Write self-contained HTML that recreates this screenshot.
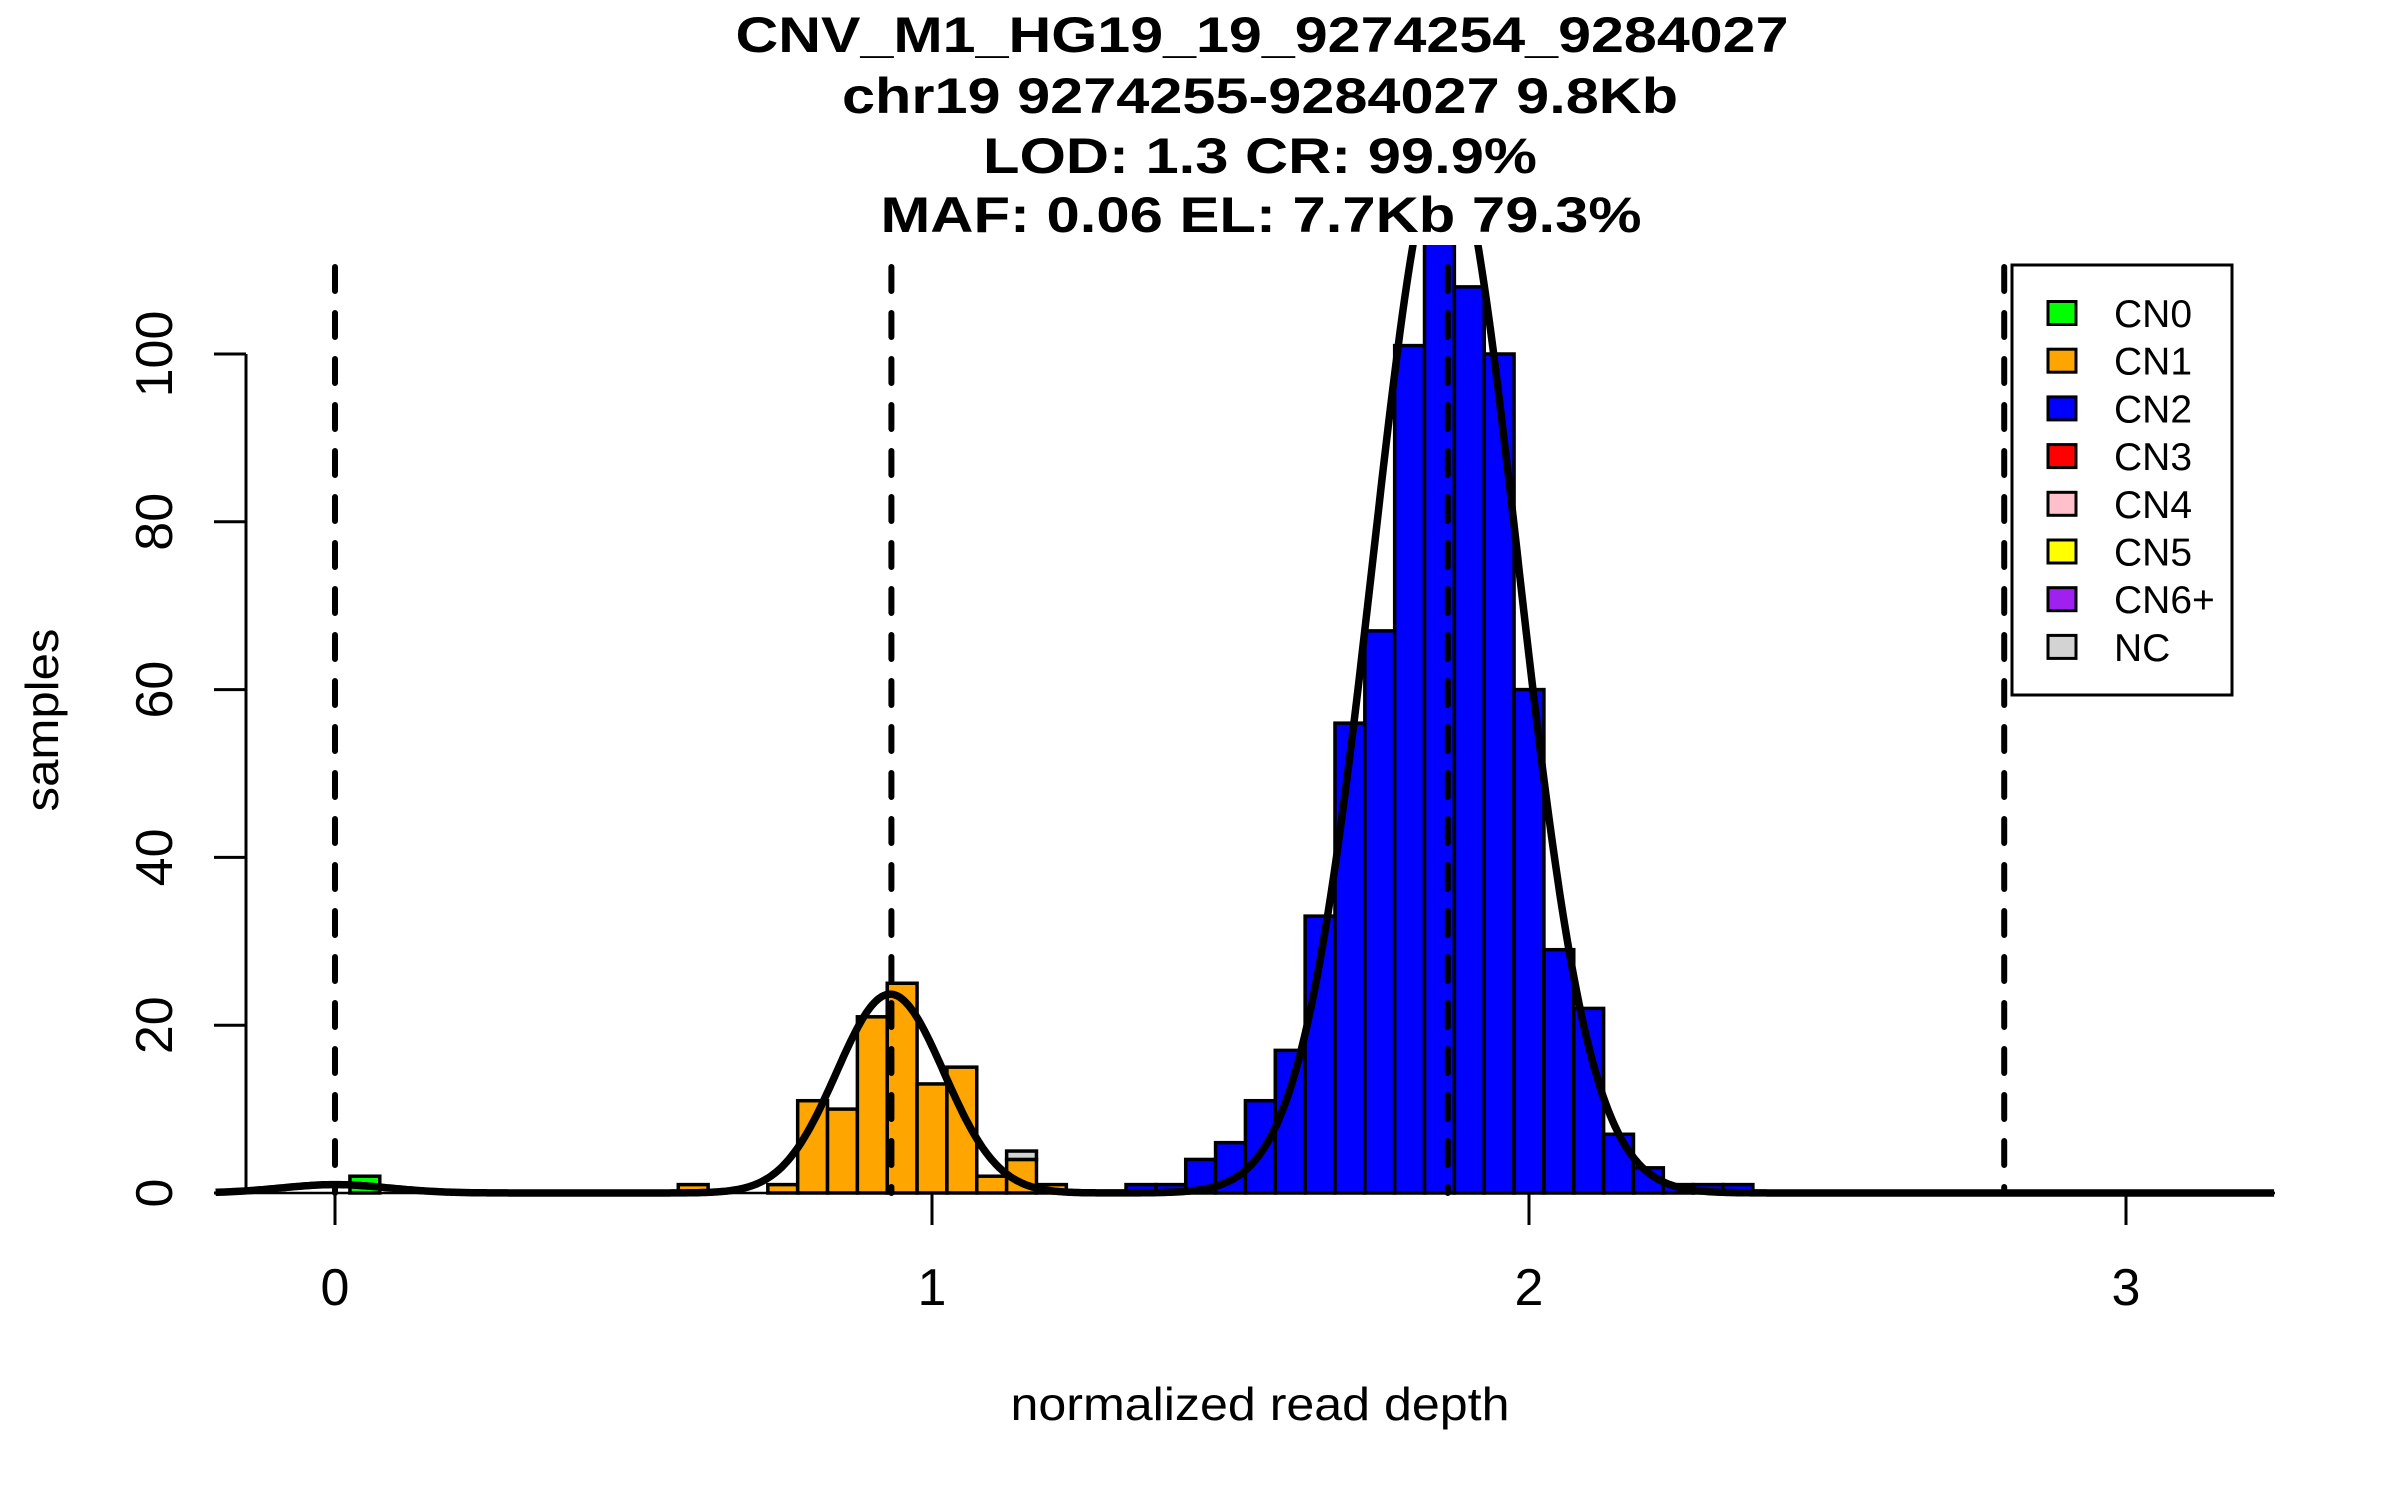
<!DOCTYPE html>
<html><head><meta charset="utf-8"><style>
html,body{margin:0;padding:0;background:#fff;}
svg{display:block;font-family:"Liberation Sans",Arial,sans-serif;}
</style></head><body>
<svg id="chart" width="2400" height="1500" viewBox="0 0 2400 1500" xmlns="http://www.w3.org/2000/svg">
<defs><clipPath id="plotclip"><rect x="200" y="245" width="2100" height="1000"/></clipPath></defs>
<g font-weight="bold" font-size="50" text-anchor="middle">
<text x="1262" y="52" textLength="1053" lengthAdjust="spacingAndGlyphs">CNV_M1_HG19_19_9274254_9284027</text>
<text x="1260" y="113" textLength="836" lengthAdjust="spacingAndGlyphs">chr19 9274255-9284027 9.8Kb</text>
<text x="1260" y="173" textLength="554" lengthAdjust="spacingAndGlyphs">LOD: 1.3 CR: 99.9%</text>
<text x="1261" y="232" textLength="761" lengthAdjust="spacingAndGlyphs">MAF: 0.06 EL: 7.7Kb 79.3%</text>
</g>
<g id="bars" clip-path="url(#plotclip)"></g>
<g id="dashes"></g>
<g id="curves" clip-path="url(#plotclip)"></g>
<g id="axes"></g>
<text x="1260" y="1420" font-size="46" text-anchor="middle" textLength="499" lengthAdjust="spacingAndGlyphs">normalized read depth</text>
<text transform="translate(58,720) rotate(-90)" font-size="46" text-anchor="middle" textLength="183" lengthAdjust="spacingAndGlyphs">samples</text>
<g id="legend"></g>
</svg>
<script>
const binWidth = 0.05;
const greenStart = 0.025;
const greenCounts = [2];
const orangeStarts = [0.575, 0.725, 0.775, 0.825, 0.875, 0.925, 0.975, 1.025, 1.075, 1.125, 1.175];
const orangeCounts = [1, 1, 11, 10, 21, 25, 13, 15, 2, 4, 1];
const ncStarts = [1.125];
const ncCounts = [1];
const ncBase = [4];
const blueStart = 1.325;
const blueCounts = [1, 1, 4, 6, 11, 17, 33, 56, 67, 101, 115, 108, 100, 60, 29, 22, 7, 3, 1, 1, 1];
const meanLines = [0, 0.932, 1.864, 2.796];
const compMeans = [0, 0.93, 1.86];
const compSds = [0.09, 0.09, 0.121];
const compPeaks = [1, 23.7, 125];
const xTicks = [0, 1, 2, 3];
const yTicks = [0, 20, 40, 60, 80, 100];
const legendLabels = ["CN0","CN1","CN2","CN3","CN4","CN5","CN6+","NC"];
const legendColors = ["#00ff00","#ffa500","#0000ff","#ff0000","#ffc0cb","#ffff00","#a020f0","#d3d3d3"];

const NS = "http://www.w3.org/2000/svg";
const X = v => 335 + v * 597;
const Y = v => 1193 - v * 8.39;
function mk(tag, attrs, parent){const e=document.createElementNS(NS,tag);for(const k in attrs)e.setAttribute(k,attrs[k]);parent.appendChild(e);return e;}

const bars = document.getElementById('bars');
function bar(start, count, base, color, name){
  const r = mk('rect',{x:X(start),y:Y(base+count),width:X(start+binWidth)-X(start),height:Y(base)-Y(base+count),fill:color,stroke:'#000','stroke-width':3.5},bars);
  
  
}
greenCounts.forEach((c,i)=>bar(greenStart+i*binWidth,c,0,'#00ff00','bar-cn0'));
orangeCounts.forEach((c,i)=>bar(orangeStarts[i],c,0,'#ffa500','bar-cn1'));
ncCounts.forEach((c,i)=>bar(ncStarts[i],c,ncBase[i],'#d3d3d3','bar-nc'));
blueCounts.forEach((c,i)=>bar(blueStart+i*binWidth,c,0,'#0000ff','bar-cn2'));

const dashes = document.getElementById('dashes');
meanLines.forEach(m=>{
  const l = mk('line',{x1:X(m),x2:X(m),y1:267,y2:1193,stroke:'#000','stroke-width':6,'stroke-dasharray':'24 22','stroke-linecap':'round'},dashes);
  
  
});

const curves = document.getElementById('curves');
let d = '';
for (let v=-0.2; v<=3.25; v+=0.004){
  let s=0;
  for (let k=0;k<compMeans.length;k++){const z=(v-compMeans[k])/compSds[k];s+=compPeaks[k]*Math.exp(-0.5*z*z);}
  d += (d?'L':'M') + X(v).toFixed(1) + ',' + Y(s).toFixed(1);
}
const cp = mk('path',{d:d,fill:'none',stroke:'#000','stroke-width':7.5,'stroke-linejoin':'round'},curves);



const axes = document.getElementById('axes');
const base = mk('line',{x1:215,x2:2275,y1:1193,y2:1193,stroke:'#000','stroke-width':2.5},axes);


const ya = mk('line',{x1:246,x2:246,y1:Y(0),y2:Y(100),stroke:'#000','stroke-width':3},axes);


yTicks.forEach(t=>{
  const l = mk('line',{x1:214,x2:246,y1:Y(t),y2:Y(t),stroke:'#000','stroke-width':3},axes);
  
  
  const tx = mk('text',{transform:`translate(172,${Y(t)}) rotate(-90)`,'font-size':52,'text-anchor':'middle'},axes);
  tx.textContent = t;
  
  
});
xTicks.forEach(t=>{
  const l = mk('line',{x1:X(t),x2:X(t),y1:1193,y2:1225,stroke:'#000','stroke-width':3},axes);
  
  
  const tx = mk('text',{x:X(t),y:1305,'font-size':52,'text-anchor':'middle'},axes);
  tx.textContent = t;
  
  
});

const lg = document.getElementById('legend');
const box = mk('rect',{x:2012,y:265,width:220,height:430,fill:'#fff',stroke:'#000','stroke-width':3},lg);


legendLabels.forEach((lab,i)=>{
  const cy = 313 + i*47.7;
  const g = mk('g',{},lg);
  
  
  const sw = mk('rect',{x:2048,y:cy-11.5,width:28,height:23,fill:legendColors[i],stroke:'#000','stroke-width':3},g);
  
  
  const t = mk('text',{x:2114,y:cy+14,'font-size':39},g);
  t.textContent = lab;
  
  
});
</script>
</body></html>
